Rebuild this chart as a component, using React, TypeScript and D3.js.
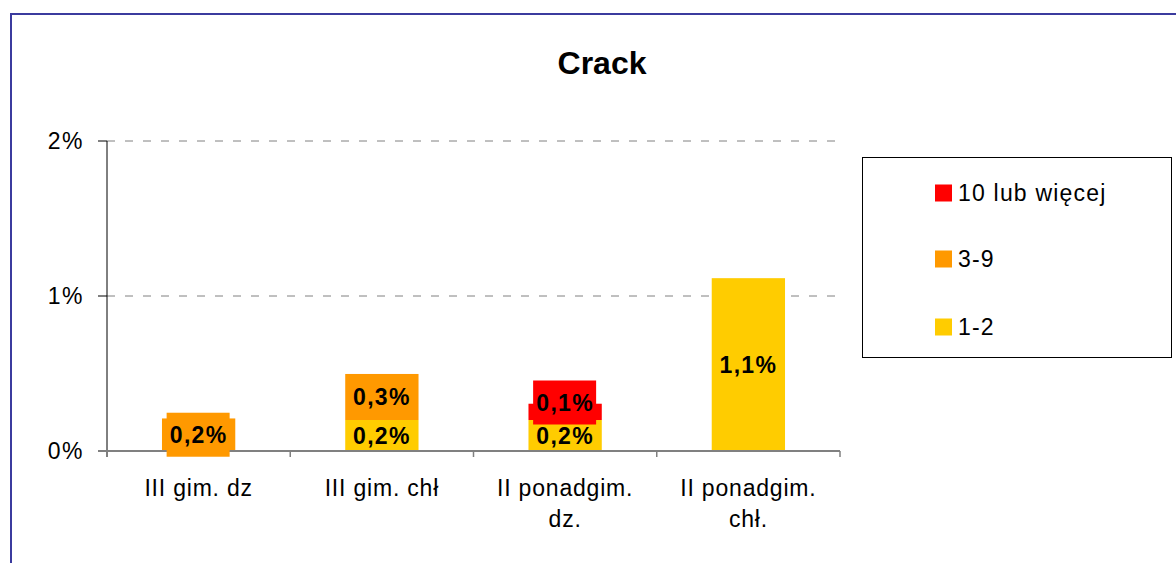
import React from "react";
import * as d3 from "d3";

const categories = ["III gim. dz", "III gim. chł", "II ponadgim. dz.", "II ponadgim. chł."];
const categoryLines = [["III gim. dz"], ["III gim. chł"], ["II ponadgim.", "dz."], ["II ponadgim.", "chł."]];
const seriesNames = ["1-2", "3-9", "10 lub więcej"];
const seriesColors = ["#FFCC00", "#FF9900", "#FF0000"];
const seriesLabelBox = [false, true, true];
const values12 = [0, 0.2, 0.2, 1.115];
const values39 = [0.21, 0.297, 0, 0];
const values10 = [0, 0, 0.105, 0];
const yTicks = [0, 1, 2];
const legendOrder = [2, 1, 0];

const FONT = "'Liberation Sans', Arial, Helvetica, sans-serif";

export default function App() {
  const W = 1176, H = 563;
  const left = 107, right = 840, top = 141, bottom = 451;
  const x = d3.scaleBand<string>().domain(categories).range([left, right]).paddingInner(0.6).paddingOuter(0.3);
  const xBand = d3.scaleBand<string>().domain(categories).range([left, right]);
  const y = d3.scaleLinear().domain([0, 2]).range([bottom, top]);

  const rows = categories.map((c, i) => ({ cat: c, "1-2": values12[i], "3-9": values39[i], "10 lub więcej": values10[i] }));
  const stack = d3.stack<any>().keys(seriesNames)(rows);

  const fmt = (v: number) => (Math.round(v * 10) / 10).toFixed(1).replace(".", ",") + "%";

  const bars: JSX.Element[] = [];
  const labels: JSX.Element[] = [];
  categories.forEach((c, ci) => {
    let prevY = Infinity;
    stack.forEach((layer, si) => {
      const [y0, y1] = layer[ci];
      if (y1 - y0 <= 0) return;
      const bx = x(c)!;
      bars.push(
        <rect key={`b${ci}-${si}`} x={bx} width={x.bandwidth()} y={y(y1)} height={y(y0) - y(y1)} fill={seriesColors[si]} />
      );
      let ly = (y(y0) + y(y1)) / 2;
      if (ly > prevY - 33) ly = prevY - 33;
      prevY = ly;
      const cx = bx + x.bandwidth() / 2;
      labels.push(
        <g key={`l${ci}-${si}`}>
          {seriesLabelBox[si] && <rect x={cx - 32} y={ly - 22} width={63} height={44} fill={seriesColors[si]} />}
          <text x={cx} y={ly + 8} textAnchor="middle" fontSize={23} fontWeight="bold" letterSpacing={1.3} fill="#000">
            {fmt(y1 - y0)}
          </text>
        </g>
      );
    });
  });

  return (
    <svg width={W} height={H} style={{ position: "absolute", left: 0, top: 0, fontFamily: FONT }}>
      <rect x={0} y={0} width={W} height={H} fill="#fff" />
      <rect x={11} y={14} width={W + 20} height={H + 20} fill="none" stroke="#3b3b9e" strokeWidth={2} />
      <text x={602} y={74} textAnchor="middle" fontSize={32} fontWeight="bold">Crack</text>

      {yTicks.filter((t) => t > 0).map((t) => (
        <line key={`g${t}`} x1={left} x2={right} y1={y(t)} y2={y(t)} stroke="#808080" strokeWidth={1} strokeDasharray="8,10" />
      ))}
      {bars}
      <line x1={left} x2={left} y1={top} y2={bottom + 6} stroke="#000" strokeWidth={1} />
      {yTicks.map((t) => (
        <g key={`t${t}`}>
          <line x1={left - 9} x2={left} y1={y(t)} y2={y(t)} stroke="#000" strokeWidth={1} />
          <text x={84} y={y(t) + 8} textAnchor="end" fontSize={23} letterSpacing={1.5}>{t}%</text>
        </g>
      ))}
      <line x1={left - 9} x2={right} y1={bottom} y2={bottom} stroke="#808080" strokeWidth={2} />
      {categories.map((c) => (
        <line key={`xt${c}`} x1={xBand(c)! + xBand.bandwidth()} x2={xBand(c)! + xBand.bandwidth()} y1={bottom} y2={bottom + 6} stroke="#808080" strokeWidth={1.5} />
      ))}
      {labels}
      {categories.map((c, i) => (
        <text key={`xl${c}`} textAnchor="middle" fontSize={23} letterSpacing={0.8}>
          {categoryLines[i].map((ln, li) => (
            <tspan key={li} x={xBand(c)! + xBand.bandwidth() / 2} y={496 + li * 31}>{ln}</tspan>
          ))}
        </text>
      ))}

      <rect x={862.5} y={157.5} width={309} height={200} fill="#fff" stroke="#000" strokeWidth={1} />
      {legendOrder.map((si, k) => {
        const cy = [193, 259, 327][k];
        return (
          <g key={`lg${si}`}>
            <rect x={935} y={cy - 8.5} width={17} height={17} fill={seriesColors[si]} />
            <text x={958} y={cy + 8} fontSize={23} letterSpacing={1.2}>{seriesNames[si]}</text>
          </g>
        );
      })}
    </svg>
  );
}
